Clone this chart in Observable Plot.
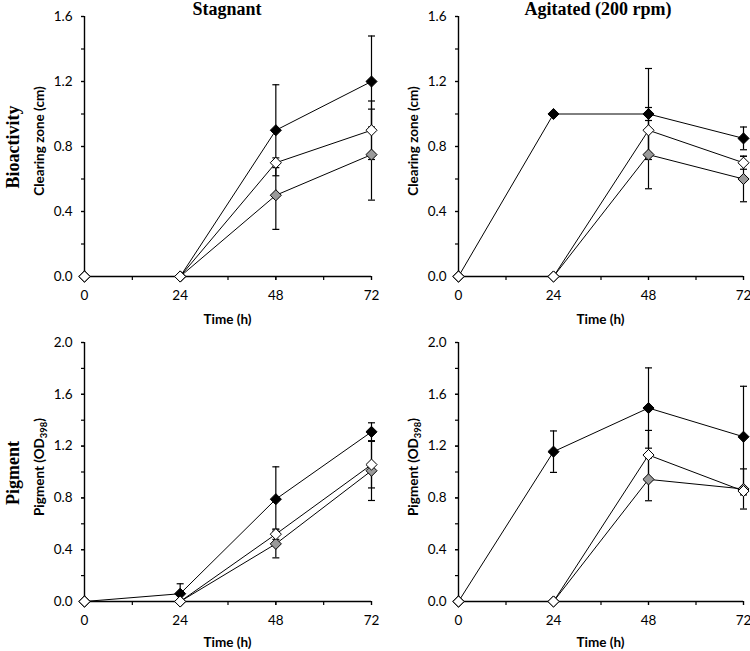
<!DOCTYPE html>
<html><head><meta charset="utf-8">
<script src="https://cdn.jsdelivr.net/npm/d3@7"></script>
<script src="https://cdn.jsdelivr.net/npm/@observablehq/plot@0.6"></script>
<style>
body{margin:0;background:#fff;}
#wrap{position:relative;width:750px;height:651px;overflow:hidden;font-family:Lato,sans-serif;color:#000;}
.p{position:absolute;}
.t{position:absolute;white-space:nowrap;line-height:1;transform:translate(-50%,-50%);}
.r{transform:translate(-50%,-50%) rotate(-90deg);}
.serif{font-family:"Liberation Serif","Times New Roman",serif;font-weight:bold;font-size:18px;}
.ax{font-family:Lato,sans-serif;font-weight:bold;font-size:13.5px;}
sub{font-size:0.7em;vertical-align:-0.25em;line-height:0;}
</style></head><body><div id="wrap"></div>
<script>
const times = [0, 24, 48, 72];
const seriesFill = ["#000000", "#9a9a9a", "#ffffff"]; // filled, grey, open diamonds
const xTicks = [0, 24, 48, 72];
const xMinorTicks = [0, 12, 24, 36, 48, 60, 72];
const bioTicks = [0, 0.4, 0.8, 1.2, 1.6];
const bioMinorTicks = [0, 0.2, 0.4, 0.6, 0.8, 1.0, 1.2, 1.4, 1.6];
const pigTicks = [0, 0.4, 0.8, 1.2, 1.6, 2.0];
const pigMinorTicks = [0, 0.2, 0.4, 0.6, 0.8, 1.0, 1.2, 1.4, 1.6, 1.8, 2.0];

// series order: black, grey, white
const bioStagnant    = [[0, 0, 0.9, 1.2], [0, 0, 0.5, 0.75], [0, 0, 0.7, 0.9]];
const bioStagnantErr = [[0, 0, 0.28, 0.28], [0, 0, 0.21, 0.28], [0, 0, 0.03, 0.18]];
const bioAgitated    = [[0, 1.0, 1.0, 0.85], [0, 0, 0.75, 0.6], [0, 0, 0.9, 0.7]];
const bioAgitatedErr = [[0, 0, 0.28, 0.07], [0, 0, 0.21, 0.14], [0, 0, 0.14, 0.04]];
const pigStagnant    = [[0, 0.06, 0.79, 1.31], [0, 0, 0.445, 1.01], [0, 0, 0.52, 1.057]];
const pigStagnantErr = [[0, 0.077, 0.25, 0.07], [0, 0, 0.108, 0.23], [0, 0, 0.04, 0.18]];
const pigAgitated    = [[0, 1.157, 1.494, 1.272], [0, 0, 0.943, 0.869], [0, 0, 1.131, 0.853]];
const pigAgitatedErr = [[0, 0.16, 0.31, 0.39], [0, 0, 0.165, 0.155], [0, 0, 0.19, 0.03]];

const capSymbol = {
  draw(ctx, size) {
    const w = Math.sqrt(size / Math.PI);
    ctx.moveTo(-w, 0); ctx.lineTo(w, 0);
  }
};

function rowsOf(vals, errs) {
  const out = [];
  vals.forEach((arr, s) => arr.forEach((v, i) => out.push({t: times[i], v, e: errs[s][i], s})));
  return out;
}

const wrap = document.getElementById("wrap");

function panel(vals, errs, yMax, yTicks, yMinor, pos) {
  const rows = rowsOf(vals, errs);
  const er = rows.filter(d => d.e > 0);
  const lo = d => Math.max(0, d.v - d.e);
  const hi = d => d.v + d.e;
  const lowCaps = er.filter(d => d.v - d.e > 0);
  const p = Plot.plot({
    width: pos.w, height: pos.h,
    marginLeft: pos.mL, marginRight: pos.mR, marginTop: pos.mT, marginBottom: pos.mB,
    x: {domain: [0, 72]},
    y: {domain: [0, yMax]},
    color: {type: "identity"},
    style: {fontFamily: "Lato, sans-serif", fontSize: "13.5px", color: "#000", background: "transparent", overflow: "visible"},
    marks: [
      Plot.axisX({ticks: xMinorTicks, tickSize: 4, tickFormat: () => "", label: null, strokeWidth: 1.2}),
      Plot.axisX({ticks: xTicks, tickSize: 4, tickPadding: 10, tickFormat: d => String(d), label: null, fontSize: 13.5, strokeWidth: 1.2}),
      Plot.axisY({ticks: yMinor, tickSize: 3, tickFormat: () => "", label: null, strokeWidth: 1.2}),
      Plot.axisY({ticks: yTicks, tickSize: 3, tickPadding: 9, tickFormat: d3.format(".1f"), label: null, fontSize: 13.5, strokeWidth: 1.2}),
      Plot.ruleY([0], {stroke: "#000", strokeWidth: 1.4}),
      Plot.ruleX([0], {stroke: "#000", strokeWidth: 1.4}),
      Plot.line(rows, {x: "t", y: "v", z: "s", stroke: "#000", strokeWidth: 1}),
      Plot.ruleX(er, {x: "t", y1: lo, y2: hi, stroke: "#000", strokeWidth: 1.2}),
      Plot.dot(er, {x: "t", y: hi, symbol: capSymbol, r: 3.5, stroke: "#000", strokeWidth: 1.2, fill: "none"}),
      Plot.dot(lowCaps, {x: "t", y: lo, symbol: capSymbol, r: 3.5, stroke: "#000", strokeWidth: 1.2, fill: "none"}),
      Plot.dot(rows, {x: "t", y: "v", symbol: "diamond2", r: 5, fill: d => seriesFill[d.s], stroke: "#000", strokeWidth: 1})
    ]
  });
  p.classList.add("p");
  p.style.left = pos.left + "px";
  p.style.top = pos.top + "px";
  wrap.appendChild(p);
}

panel(bioStagnant, bioStagnantErr, 1.6, bioTicks, bioMinorTicks, {left: 0, top: 0, w: 375, h: 325, mL: 84, mR: 4, mT: 16, mB: 49});
panel(bioAgitated, bioAgitatedErr, 1.6, bioTicks, bioMinorTicks, {left: 375, top: 0, w: 375, h: 325, mL: 83, mR: 7, mT: 16, mB: 49});
panel(pigStagnant, pigStagnantErr, 2.0, pigTicks, pigMinorTicks, {left: 0, top: 325, w: 375, h: 326, mL: 84, mR: 4, mT: 17, mB: 50});
panel(pigAgitated, pigAgitatedErr, 2.0, pigTicks, pigMinorTicks, {left: 375, top: 325, w: 375, h: 326, mL: 83, mR: 7, mT: 17, mB: 50});

function label(html, x, y, cls) {
  const d = document.createElement("div");
  d.className = "t " + cls;
  d.style.left = x + "px";
  d.style.top = y + "px";
  d.innerHTML = html;
  wrap.appendChild(d);
}
label("Stagnant", 227, 9, "serif");
label("Agitated (200 rpm)", 598, 9, "serif");
label("Bioactivity", 13, 147, "serif r");
label("Pigment", 13, 473, "serif r");
label("Clearing zone (cm)", 40, 141, "ax r");
label("Clearing zone (cm)", 414, 141, "ax r");
label("Pigment (OD<sub>398</sub>)", 40, 467, "ax r");
label("Pigment (OD<sub>398</sub>)", 414, 467, "ax r");
label("Time (h)", 227.5, 320, "ax");
label("Time (h)", 600.5, 320, "ax");
label("Time (h)", 227.5, 643, "ax");
label("Time (h)", 600.5, 643, "ax");
</script></body></html>
